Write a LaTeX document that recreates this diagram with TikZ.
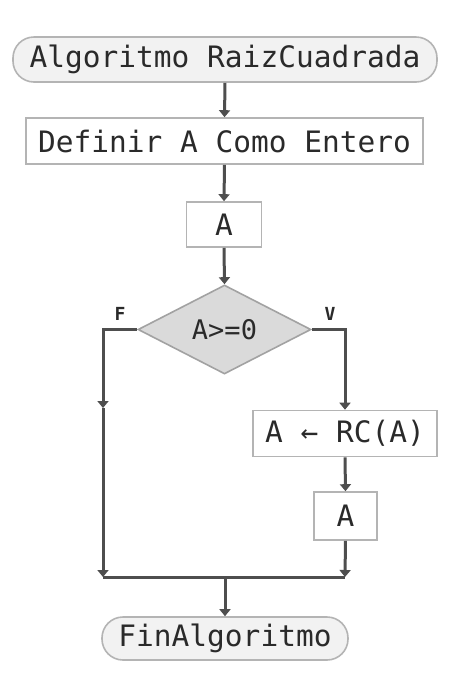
\documentclass[tikz,border=0pt]{standalone}
\usepackage{fontspec}
\setmonofont{DejaVu Sans Mono}
\usetikzlibrary{shapes.geometric,arrows.meta}
\definecolor{lin}{HTML}{4E4E4E}
\definecolor{bord}{HTML}{B4B4B4}
\definecolor{dfill}{HTML}{DADADA}
\definecolor{tfill}{HTML}{F2F2F2}
\definecolor{txt}{HTML}{2A2A2A}
\begin{document}
\begin{tikzpicture}[x=1pt,y=-1pt,
  base/.style={inner sep=0pt,font=\ttfamily\fontsize{29.5}{30}\selectfont,text=txt,line width=1.6pt,draw=bord},
  term/.style={base,rectangle,rounded corners=21pt,fill=tfill},
  procbox/.style={base,rectangle,fill=white},
  decis/.style={base,diamond,fill=dfill,draw=bord!90!black},
  conn/.style={draw=lin,line width=3pt},
  arr/.style={conn,-{Triangle[length=7pt,width=11pt]}},
  lbl/.style={font=\ttfamily\bfseries\fontsize{18}{19}\selectfont,text=txt}]
\useasboundingbox (0,0) rectangle (462,673);
\fill[white] (0,0) rectangle (462,673);
\node[term, minimum width=424pt, minimum height=45pt] (start) at (225,59.5) {Algoritmo RaizCuadrada};
\node[procbox, minimum width=397pt, minimum height=46pt] (def) at (224.5,141) {Definir A Como Entero};
\node[procbox, minimum width=75pt, minimum height=45pt] (in) at (224,224.5) {A};
\node[decis, minimum width=173pt, minimum height=89pt, aspect=1.94] (dec) at (224.5,329.5) {\fontsize{27}{28}\selectfont A>=0};
\node[procbox, minimum width=184pt, minimum height=46pt] (rc) at (345,433.5) {A ← RC(A)};
\node[procbox, minimum width=63pt, minimum height=48pt] (out) at (345.5,516) {A};
\node[term, minimum width=246pt, minimum height=43pt] (fin) at (225,638.5) {FinAlgoritmo};
\coordinate (lm) at (103,408);
\coordinate (lj) at (103,577);
\coordinate (rj) at (345,577);
\coordinate (mj) at (225,577);
\node[lbl] (F) at (120,314) {F};
\node[lbl] (V) at (330,314) {V};
\draw[arr] (start.south) -- (def.north);
\draw[arr] (def.south) -- (in.north);
\draw[arr] (in.south) -- (dec.north);
\draw[arr] (dec.east) -| (rc.north);
\draw[arr] (rc.south) -- (out.north);
\draw[arr] (out.south) -- (rj);
\draw[arr] (dec.west) -| (lm);
\draw[arr] (lm) -- (lj);
\draw[conn] (lj) -- (rj);
\draw[arr] (mj) -- (fin.north);
\end{tikzpicture}
\end{document}
